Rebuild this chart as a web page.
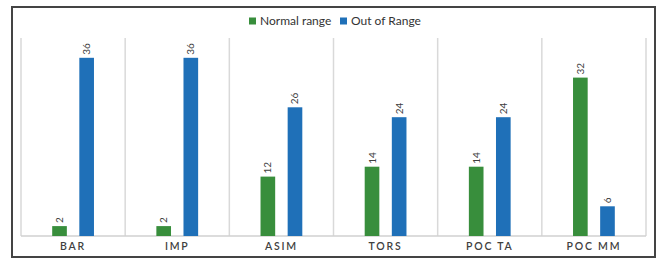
<!DOCTYPE html>
<html>
<head>
<meta charset="utf-8">
<script src="https://cdn.jsdelivr.net/npm/d3@7"></script>
<style>
  body { margin: 0; background: #fff; }
  text { font-family: Lato, "Open Sans", sans-serif; }
</style>
</head>
<body>
<div id="container"></div>
<script>
const categories = ["BAR", "IMP", "ASIM", "TORS", "POC TA", "POC MM"];
const seriesNames = ["Normal range", "Out of Range"];
const normalRange = [2, 2, 12, 14, 14, 32];
const outOfRange = [36, 36, 26, 24, 24, 6];
const colors = ["#388e3c", "#1f70b8"];

const width = 657, height = 259;
const margin = { top: 38, right: 11, bottom: 23, left: 21 };

const svg = d3
  .select("#container")
  .append("svg")
  .attr("width", width)
  .attr("height", height);

// outer frame
svg
  .append("rect")
  .attr("x", 12)
  .attr("y", 7)
  .attr("width", 643)
  .attr("height", 250)
  .attr("fill", "none")
  .attr("stroke", "#444")
  .attr("stroke-width", 2);

const x = d3
  .scaleBand()
  .domain(categories)
  .range([margin.left, width - margin.right]);

const y = d3
  .scaleLinear()
  .domain([0, 40])
  .range([height - margin.bottom, margin.top]);

const xInner = d3
  .scaleBand()
  .domain(seriesNames)
  .range([0, x.bandwidth()])
  .paddingInner(0.46)
  .paddingOuter(1.15);

// category separators
const edges = categories.map((c) => x(c)).concat([x.range()[1]]);
svg
  .selectAll(".sep")
  .data(edges)
  .enter()
  .append("line")
  .attr("x1", (d) => d)
  .attr("x2", (d) => d)
  .attr("y1", y(40))
  .attr("y2", y(0))
  .attr("stroke", "#d9d9d9")
  .attr("stroke-width", 1.5);

// baseline
svg
  .append("line")
  .attr("x1", x.range()[0])
  .attr("x2", x.range()[1])
  .attr("y1", y(0))
  .attr("y2", y(0))
  .attr("stroke", "#d0d0d0")
  .attr("stroke-width", 1.5);

const rows = categories.map((c, i) => ({
  category: c,
  values: [normalRange[i], outOfRange[i]],
}));

const groups = svg
  .selectAll(".group")
  .data(rows)
  .enter()
  .append("g")
  .attr("transform", (d) => `translate(${x(d.category)},0)`);

groups
  .selectAll("rect")
  .data((d) => d.values.map((v, j) => ({ name: seriesNames[j], value: v, j })))
  .enter()
  .append("rect")
  .attr("x", (d) => xInner(d.name))
  .attr("y", (d) => y(d.value))
  .attr("width", xInner.bandwidth())
  .attr("height", (d) => y(0) - y(d.value))
  .attr("fill", (d) => colors[d.j]);

groups
  .selectAll(".val")
  .data((d) => d.values.map((v, j) => ({ name: seriesNames[j], value: v })))
  .enter()
  .append("text")
  .attr(
    "transform",
    (d) =>
      `translate(${xInner(d.name) + xInner.bandwidth() / 2 + 3.5},${y(d.value) - 3}) rotate(-90)`
  )
  .attr("font-size", 10)
  .attr("fill", "#404040")
  .text((d) => d.value);

// category labels
svg
  .selectAll(".cat")
  .data(categories)
  .enter()
  .append("text")
  .attr("x", (d) => x(d) + x.bandwidth() / 2)
  .attr("y", y(0) + 14)
  .attr("text-anchor", "middle")
  .attr("font-size", 10.5)
  .attr("font-weight", 600)
  .attr("letter-spacing", "1.8px")
  .attr("fill", "#404040")
  .text((d) => d);

// legend
const legend = svg.append("g");
const legendX = [249, 340];
seriesNames.forEach((name, i) => {
  legend
    .append("rect")
    .attr("x", legendX[i])
    .attr("y", 17.5)
    .attr("width", 7)
    .attr("height", 7)
    .attr("fill", colors[i]);
  legend
    .append("text")
    .attr("x", legendX[i] + 11)
    .attr("y", 25)
    .attr("font-size", 12)
    .attr("fill", "#333")
    .text(name);
});
</script>
</body>
</html>
